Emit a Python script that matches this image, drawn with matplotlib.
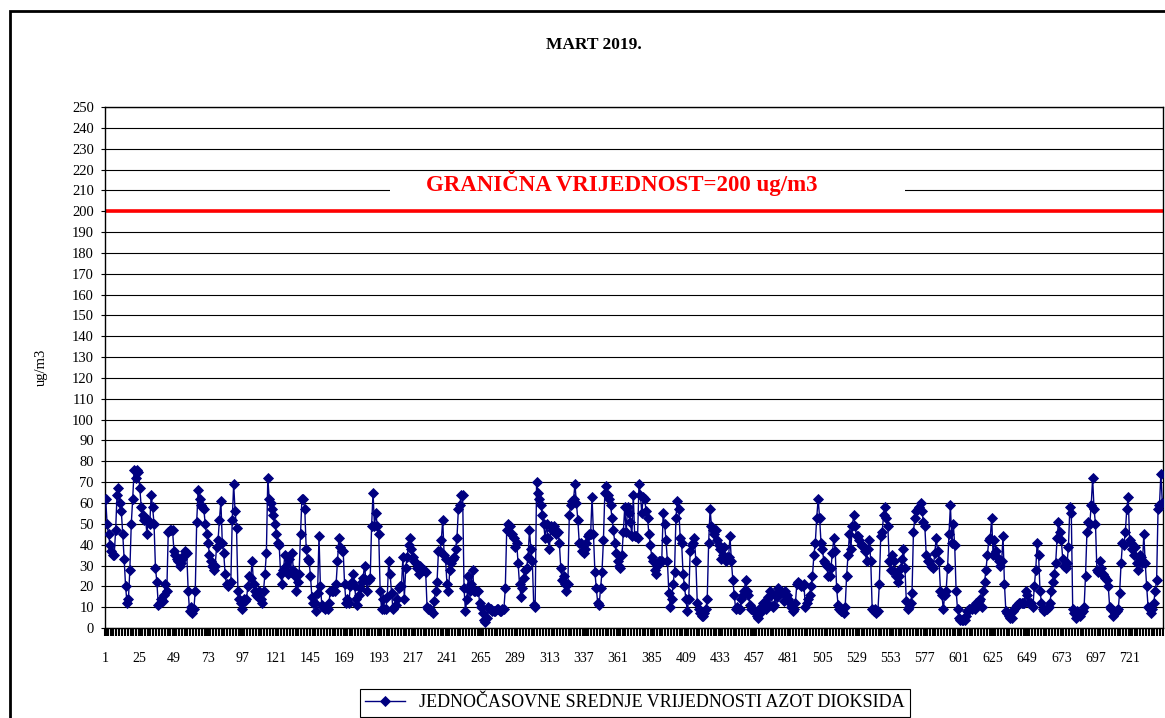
import matplotlib
matplotlib.use("Agg")
import matplotlib.pyplot as plt
from matplotlib.patches import Rectangle
import numpy as np

plt.rcParams["font.family"] = ["Liberation Serif", "DejaVu Serif"]

TITLE = "MART 2019."
LIMIT_VALUE = 200
LIMIT_LABEL = "GRANIČNA VRIJEDNOST=200 ug/m3"
SERIES_LABEL = "JEDNOČASOVNE SREDNJE VRIJEDNOSTI AZOT DIOKSIDA"
Y_LABEL = "ug/m3"

# hourly NO2 values (ug/m3), one row per day
week1 = [
    [62, 50, 45, 40, 37, 35, 35, 47, 64, 67, 60, 56, 45, 33, 20, 12, 14, 28, 50, 62, 76, 72, 76, 75],
    [67, 58, 54, 52, 53, 45, 52, 50, 64, 58, 50, 29, 22, 11, 12, 14, 13, 16, 21, 18, 46, 47, 47, 47],
    [37, 35, 33, 32, 30, 31, 33, 35, 37, 36, 18, 8, 10, 7, 9, 18, 51, 66, 62, 59, 58, 57, 50, 45],
    [41, 35, 32, 30, 28, 30, 39, 42, 52, 61, 41, 36, 26, 21, 20, 21, 22, 52, 69, 56, 48, 18, 14, 12],
    [9, 14, 13, 14, 20, 25, 24, 32, 21, 18, 16, 15, 18, 14, 12, 18, 26, 36, 72, 62, 60, 57, 54, 50],
    [45, 41, 40, 26, 21, 28, 35, 30, 26, 33, 27, 36, 28, 25, 18, 22, 26, 45, 62, 62, 57, 38, 33, 32],
    [25, 15, 12, 12, 8, 17, 44, 20, 11, 10, 9, 10, 9, 12, 18, 18, 18, 18, 21, 32, 43, 39, 37, 37],
]
week2 = [
    [21, 12, 14, 12, 20, 22, 26, 20, 14, 11, 16, 19, 22, 24, 30, 23, 18, 23, 24, 49, 65, 49, 55, 49],
    [45, 18, 9, 14, 9, 9, 15, 32, 26, 17, 9, 10, 11, 14, 19, 20, 20, 34, 14, 29, 34, 40, 43, 38],
    [34, 32, 31, 29, 26, 30, 29, 28, 28, 27, 10, 9, 9, 8, 7, 13, 18, 22, 37, 37, 42, 52, 35, 33],
    [21, 18, 28, 31, 33, 34, 38, 43, 57, 59, 64, 64, 19, 8, 14, 25, 18, 21, 28, 18, 18, 18, 18, 12],
    [10, 7, 4, 3, 5, 10, 9, 9, 8, 8, 8, 9, 9, 8, 8, 9, 9, 19, 47, 50, 49, 45, 45, 43],
    [39, 41, 31, 21, 15, 19, 24, 28, 29, 34, 47, 38, 32, 11, 10, 70, 65, 62, 59, 54, 50, 43, 50, 43],
    [38, 49, 47, 49, 47, 45, 46, 41, 29, 23, 25, 21, 18, 21, 54, 59, 61, 62, 69, 60, 52, 41, 41, 37],
]
week3 = [
    [36, 38, 41, 44, 45, 45, 63, 45, 27, 19, 12, 11, 19, 27, 42, 65, 68, 64, 62, 59, 53, 47, 41, 36],
    [32, 30, 29, 35, 46, 58, 46, 58, 55, 51, 44, 64, 44, 44, 43, 69, 64, 55, 63, 62, 56, 53, 45, 40],
    [34, 32, 28, 26, 30, 32, 32, 32, 55, 50, 42, 32, 17, 10, 14, 21, 27, 53, 61, 57, 43, 41, 26, 20],
    [14, 8, 14, 37, 40, 41, 43, 32, 12, 9, 7, 6, 6, 7, 9, 14, 41, 57, 49, 47, 45, 47, 42, 40],
    [38, 33, 35, 39, 32, 34, 34, 44, 32, 23, 16, 9, 10, 9, 9, 14, 16, 18, 23, 18, 16, 11, 9, 9],
    [8, 7, 6, 5, 7, 10, 12, 12, 9, 12, 15, 18, 16, 10, 11, 16, 15, 19, 18, 18, 17, 13, 18, 16],
    [14, 12, 10, 8, 9, 12, 21, 22, 21, 20, 20, 21, 10, 12, 14, 16, 20, 25, 35, 41, 53, 62, 53, 41],
]
week4 = [
    [38, 32, 31, 30, 25, 25, 29, 36, 43, 37, 19, 11, 9, 8, 8, 7, 10, 25, 35, 45, 38, 49, 54, 49],
    [44, 44, 42, 40, 40, 39, 37, 32, 38, 42, 32, 9, 8, 9, 7, 8, 21, 44, 46, 54, 58, 53, 49, 32],
    [28, 35, 32, 27, 25, 22, 25, 29, 33, 38, 29, 13, 9, 10, 12, 17, 46, 53, 56, 57, 58, 60, 56, 51],
    [49, 35, 32, 32, 30, 30, 29, 36, 43, 37, 32, 18, 16, 9, 16, 18, 29, 45, 59, 41, 50, 40, 18, 9],
    [5, 4, 4, 4, 4, 6, 8, 9, 9, 9, 10, 9, 12, 12, 13, 14, 10, 18, 22, 28, 35, 42, 43, 53],
    [35, 42, 37, 34, 32, 30, 32, 44, 21, 8, 7, 6, 5, 5, 8, 9, 10, 11, 12, 12, 12, 12, 12, 18],
    [16, 12, 12, 12, 10, 20, 28, 41, 35, 18, 12, 9, 8, 9, 9, 10, 12, 18, 22, 26, 31, 43, 51, 46],
]
week5 = [
    [42, 33, 30, 29, 31, 39, 58, 55, 9, 7, 5, 8, 7, 6, 7, 8, 10, 25, 46, 51, 50, 59, 72, 57],
    [50, 28, 27, 32, 29, 26, 25, 24, 23, 20, 10, 9, 6, 8, 7, 8, 9, 17, 31, 41, 40, 46, 57, 63],
    [42, 41, 38, 35, 39, 31, 28, 35, 34, 31, 45, 31, 20, 10, 9, 7, 9, 12, 18, 23, 57, 59, 74, 60],
]

values = np.concatenate([np.ravel(w) for w in (week1, week2, week3, week4, week5)])
hours = np.arange(1, len(values) + 1)
x_labels = list(range(1, len(values) + 1, 24))

fig = plt.figure(figsize=(11.65, 7.18), dpi=100)
ax = fig.add_axes([0.0901, 0.1253, 0.9082, 0.7257])

ax.set_ylim(0, 250)
ax.set_xlim(0.5, len(values) + 0.5)
ax.set_yticks(np.arange(0, 251, 10))
ax.yaxis.grid(True, color="black", linewidth=0.8, zorder=0)
ax.set_axisbelow(True)

# white box behind limit label hides the 210 gridline
ax.add_patch(Rectangle((0.269, 0.826), 0.487, 0.03, transform=ax.transAxes,
                       facecolor="white", edgecolor="none", zorder=1))

ax.axhline(LIMIT_VALUE, color="#ff0000", linewidth=2.6, zorder=2)
ax.text(0.488, 0.854, LIMIT_LABEL, transform=ax.transAxes, color="#ff0000",
        fontsize=16.5, fontweight="bold", ha="center", va="center", zorder=4)

ax.plot(hours, values, color="#000080", linewidth=1.0, marker="D", markersize=4.8,
        markeredgewidth=0.6, label=SERIES_LABEL, zorder=3)

ax.set_xticks(x_labels)
ax.set_xticklabels([str(v) for v in x_labels])
ax.set_xticks(np.arange(0.5, len(values) + 1, 2), minor=True)
ax.tick_params(axis="x", which="both", length=6, width=1.5, direction="out",
               labelsize=10, pad=11)
ax.tick_params(axis="y", length=3, labelsize=10.5, pad=5)

for spine in ax.spines.values():
    spine.set_color("black")
    spine.set_linewidth(1.0)

ax.set_ylabel(Y_LABEL, fontsize=10.5)
ax.yaxis.set_label_coords(-0.054, 0.5)

fig.text(0.51, 0.937, TITLE, fontsize=12.5, fontweight="bold", ha="center", va="center")

leg = ax.legend(loc="center", bbox_to_anchor=(0.545, 0.021), bbox_transform=fig.transFigure,
                fancybox=False, frameon=True, edgecolor="black", framealpha=1,
                fontsize=13, handlelength=2.2, borderpad=0.3, borderaxespad=0)
leg.get_frame().set_linewidth(0.8)

# chart-area border (top and left visible)
fig.patches.append(Rectangle((10 / 1165, -0.1), 1.2, 0.1 + (1 - 11 / 718),
                             transform=fig.transFigure, fill=False,
                             edgecolor="black", linewidth=2.0, clip_on=False))

fig.savefig("out.png", dpi=100)
